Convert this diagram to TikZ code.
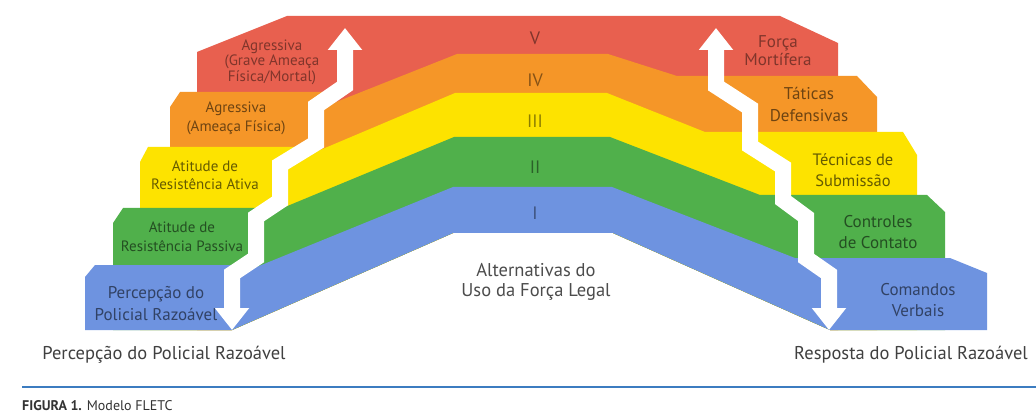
\documentclass[tikz,border=0pt]{standalone}
\usepackage{fontspec}
\setmainfont{PT Sans}
\usetikzlibrary{arrows.meta}
\definecolor{bandV}{HTML}{E8604F}
\definecolor{bandIV}{HTML}{F59628}
\definecolor{bandIII}{HTML}{FDE300}
\definecolor{bandII}{HTML}{50B04B}
\definecolor{bandI}{HTML}{6E93E0}
\definecolor{rulecol}{HTML}{3C7CC0}
\begin{document}
\begin{tikzpicture}[x=1pt, y=-1pt,
    steptext/.style={align=center, font=\fontsize{15}{19}\selectfont},
    numeral/.style={font=\fontsize{18}{18}\selectfont, text=black, text opacity=0.45},
    bigarrow/.style={white, line width=16pt, arrows={Triangle[width=33pt,length=22pt]-Triangle[width=33pt,length=22pt]}}]
  \useasboundingbox (0,0) rectangle (1036,414);
  \fill[white] (0,0) rectangle (1036,414);
  % bands, top first
  \fill[bandV] (197,330) -- (197,52) -- (287,16) -- (780,16) -- (838,43) -- (838,330) -- (830,330) -- (613,233) -- (453,233) -- (232,330) -- cycle;
  \fill[bandIV] (170,330) -- (170,107) -- (180,92) -- (336,92) -- (316,110) -- (457,54) -- (608,54) -- (677,76) -- (857,76) -- (877,97) -- (877,330) -- (830,330) -- (613,233) -- (453,233) -- (232,330) -- cycle;
  \fill[bandIII] (140,330) -- (140,162) -- (148,147) -- (310,147) -- (280,167) -- (455,93) -- (607,93) -- (705,132) -- (903,132) -- (917,155) -- (917,330) -- (830,330) -- (613,233) -- (453,233) -- (232,330) -- cycle;
  \fill[bandII] (113,330) -- (113,223) -- (123,208) -- (270,208) -- (256,219) -- (454,137) -- (610,137) -- (760,195) -- (927,195) -- (945,212) -- (945,330) -- (830,330) -- (613,233) -- (453,233) -- (232,330) -- cycle;
  \fill[bandI] (85,330) -- (85,277) -- (95,265) -- (246,265) -- (232,277) -- (453,187) -- (612,187) -- (795,258) -- (950,258) -- (987,273) -- (987,330) -- (830,330) -- (613,233) -- (453,233) -- (232,330) -- cycle;
  % white arrows
  \coordinate (ltip) at (345,28);
  \coordinate (lbase) at (232,330);
  \coordinate (rtip) at (716,28);
  \coordinate (rbase) at (829,330);
  \draw[bigarrow] (lbase) -- (232,274) -- (256,258) -- (256,217) -- (280,201) -- (280,165) -- (316,143) -- (316,106) -- (345,86) -- (ltip);
  \draw[bigarrow] (rbase) -- (829,274) -- (806,258) -- (806,217) -- (783,200) -- (783,167) -- (750,146) -- (750,108) -- (716,86) -- (rtip);
  % levels
  \node [numeral] at (535,38) (nV) {V};
  \node [numeral] at (535,80) (nIV) {IV};
  \node [numeral] at (535,121) (nIII) {III};
  \node [numeral] at (535,167) (nII) {II};
  \node [numeral] at (535,213) (nI) {I};
  % subject side
  \node [steptext, text=bandV!55!black, font=\fontsize{15}{15.5}\selectfont] at (272,62) (agrGrave) {Agressiva\\(Grave Ameaça\\Física/Mortal)};
  \node [steptext, text=bandIV!45!black] at (236,118) (agr) {Agressiva\\(Ameaça Física)};
  \node [steptext, text=bandIII!40!black, font=\fontsize{15}{18}\selectfont] at (205,175) (resAtiva) {Atitude de\\Resistência Ativa};
  \node [steptext, text=bandII!45!black] at (182,237) (resPassiva) {Atitude de\\Resistência Passiva};
  \node [steptext, text=bandI!45!black, font=\fontsize{17}{22}\selectfont] at (156,304) (percep) {Percepção do\\Policial Razoável};
  % officer side
  \node [steptext, text=bandV!55!black, font=\fontsize{17}{18}\selectfont] at (778,51) (forca) {Força\\Mortífera};
  \node [steptext, text=bandIV!45!black, font=\fontsize{17}{22}\selectfont] at (809,104) (taticas) {Táticas\\Defensivas};
  \node [steptext, text=bandIII!40!black, font=\fontsize{16.5}{21}\selectfont] at (853,170) (tecnicas) {Técnicas de\\Submissão};
  \node [steptext, text=bandII!45!black, font=\fontsize{17}{21}\selectfont] at (878,232) (controles) {Controles\\de Contato};
  \node [steptext, text=bandI!45!black, font=\fontsize{17}{21}\selectfont] at (918,300) (comandos) {Comandos\\Verbais};
  % centre and foot
  \node [steptext, text=black!70, font=\fontsize{18.5}{20}\selectfont] at (536,282) (alt) {Alternativas do\\Uso da Força Legal};
  \node [text=black!75, font=\fontsize{18.5}{18.5}\selectfont] at (164,355) (percepPol) {Percepção do Policial Razoável};
  \node [text=black!75, font=\fontsize{18.5}{18.5}\selectfont] at (911,355) (respPol) {Resposta do Policial Razoável};
  \draw[rulecol, line width=2pt] (22,387) -- (1036,387);
  \node [anchor=base west, text=black!80, font=\fontsize{14}{14}\selectfont, inner sep=0pt] at (22,410) (caption) {\textbf{FIGURA 1.} Modelo FLETC};
\end{tikzpicture}
\end{document}
